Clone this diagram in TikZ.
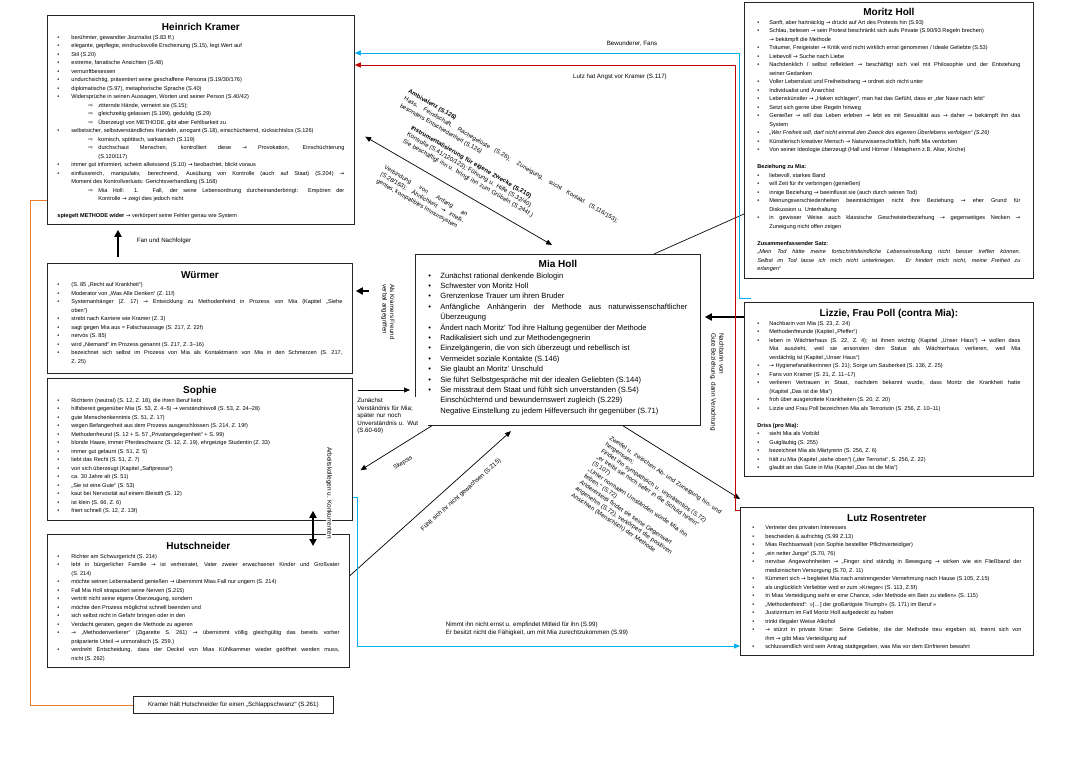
\documentclass[tikz,border=0pt]{standalone}
\usepackage{fontspec}
\setmainfont{Liberation Sans}
\newfontfamily\symfont{DejaVu Sans}
\usetikzlibrary{arrows.meta,positioning,calc}

\definecolor{fanblue}{RGB}{0,176,240}
\definecolor{angstred}{RGB}{192,0,0}
\definecolor{hutorange}{RGB}{237,125,49}

\newlength\hw \newlength\sw \newlength\sa
\setlength\hw{14pt}\setlength\sw{41pt}\setlength\sa{10pt}
\newcommand\ar{{\symfont →}}
\newcommand\Ar{{\symfont ⇨}}
\newcommand\itm{\par\hangindent=\hw\hangafter=0\noindent\llap{\makebox[\hw][l]{\textbullet}}}
\newcommand\sitm{\par\hangindent=\sw\hangafter=0\noindent\llap{\makebox[\sa][l]{\Ar}}}
\newcommand\nitm{\par\hangindent=\hw\hangafter=0\noindent}
\newcommand\ttl[1]{{\centering\fontsize{10}{12}\selectfont\bfseries #1\par}}
\newcommand\gap{\par\vspace{8.5pt}}
\newcommand\content[3]{\parbox[t][#2][t]{#1}{\tolerance=10000\hyphenpenalty=10000\emergencystretch=20pt #3}}

\begin{document}
\begin{tikzpicture}[x=1pt,y=-1pt,>={Triangle[length=6pt,width=5pt]},semithick]
\tikzstyle{char}=[draw=black!85,line width=0.8pt,anchor=north west,inner xsep=10pt,inner ysep=8pt,font=\fontsize{5.6}{8.5}\selectfont]
\tikzstyle{lbl}=[inner sep=0.5pt,font=\fontsize{6.2}{8}\selectfont]
\tikzstyle{link}=[->,line width=0.7pt]
\tikzstyle{bold arrow}=[line width=2pt,-{Triangle[length=7pt,width=7pt]}]
\tikzstyle{fan}=[draw=fanblue,line width=0.8pt]
\tikzstyle{angst}=[draw=angstred,line width=0.8pt]
\useasboundingbox (0,0) rectangle (1080,763);

% Kramer
\node[char] (K) at (47,15) {\content{287pt}{193pt}{%
\ttl{Heinrich Kramer}
\itm berühmter, gewandter Journalist (S.83 ff.)
\itm elegante, gepflegte, eindrucksvolle Erscheinung (S.15), legt Wert auf
\itm Stil (S.20)
\itm extreme, fanatische Ansichten (S.48)
\itm vernunftbesessen
\itm undurchsichtig, präsentiert seine geschaffene Persona (S.19/30/176)
\itm diplomatische (S.97), metaphorische Sprache (S.40)
\itm Widersprüche in seinen Aussagen, Worten und seiner Person (S.40/42)
\sitm zitternde Hände, verneint sie (S.15);
\sitm gleichzeitig gelassen (S.199), geduldig (S.29)
\sitm Überzeugt von METHODE, gibt aber Fehlbarkeit zu
\itm selbstsicher, selbstverständliches Handeln, arrogant (S.18), einschüchternd, rücksichtslos (S.126)
\sitm komisch, spöttisch, sarkastisch (S.119)
\sitm durchschaut Menschen, kontrolliert diese \ar{} Provokation, Einschüchterung\linebreak (S.120/117)
\itm immer gut informiert, scheint allwissend (S.10) \ar{} beobachtet, blickt voraus
\itm einflussreich, manipulativ, berechnend, Ausübung von Kontrolle (auch auf Staat) (S.204) \ar{}\linebreak Moment des Kontrollverlusts: Gerichtsverhandlung (S.168)
\sitm Mia Holl: 1. Fall, der seine Lebensordnung durcheinanderbringt: Empören der\linebreak Kontrolle \ar{} zeigt dies jedoch nicht
\gap
\noindent\textbf{spiegelt METHODE wider} \ar{} verkörpert seine Fehler genau wie System}};

% Wuermer
\node[char] (W) at (47,263) {\content{285pt}{94pt}{%
\ttl{Würmer}
\itm (S. 85 „Recht auf Krankheit“)
\itm Moderator von „Was Alle Denken“ (Z. 11f)
\itm Systemanhänger (Z. 17) \ar{} Entwicklung zu Methodenfeind in Prozess von Mia (Kapitel „Siehe\linebreak oben“)
\itm strebt nach Karriere wie Kramer (Z. 3)
\itm sagt gegen Mia aus = Falschaussage (S. 217, Z. 22f)
\itm nervös (S. 85)
\itm wird „Niemand“ im Prozess genannt (S. 217, Z. 3--16)
\itm bezeichnet sich selbst im Prozess von Mia als Kontaktmann von Mia in den Schmerzen (S. 217,\linebreak Z. 25)}};

% Sophie
\node[char] (S) at (47,378) {\content{285pt}{126pt}{%
\ttl{Sophie}
\itm Richterin (neutral) (S. 12, Z. 18), die ihren Beruf liebt
\itm hilfsbereit gegenüber Mia (S. 53, Z. 4--5) \ar{} verständnisvoll (S. 53, Z. 24--28)
\itm gute Menschenkenntnis (S. 51, Z. 17)
\itm wegen Befangenheit aus dem Prozess ausgeschlossen (S. 214, Z. 19f)
\itm Methodenfreund (S. 12 + S. 57 „Privatangelegenheit“ + S. 99)
\itm blonde Haare, immer Pferdeschwanz (S. 12, Z. 19), ehrgeizige Studentin (Z. 33)
\itm immer gut gelaunt (S. 51, Z. 5)
\itm liebt das Recht (S. 51, Z. 7)
\itm von sich überzeugt (Kapitel „Saftpresse“)
\itm ca. 30 Jahre alt (S. 51)
\itm „Sie ist eine Gute“ (S. 53)
\itm kaut bei Nervosität auf einem Bleistift (S. 12)
\itm ist klein (S. 66, Z. 6)
\itm friert schnell (S. 12, Z. 13f)}};

% Hutschneider
\node[char] (H) at (47,534) {\content{282pt}{117pt}{%
\ttl{Hutschneider}
\itm Richter am Schwurgericht (S. 214)
\itm lebt in bürgerlicher Familie \ar{} ist verheiratet, Vater zweier erwachsener Kinder und Großvater\linebreak (S. 214)
\itm möchte seinen Lebensabend genießen \ar{} übernimmt Mias Fall nur ungern (S. 214)
\itm Fall Mia Holl strapaziert seine Nerven (S.215)
\itm vertritt nicht seine eigene Überzeugung, sondern
\itm möchte den Prozess möglichst schnell beenden und
\itm sich selbst nicht in Gefahr bringen oder in den
\itm Verdacht geraten, gegen die Methode zu agieren
\itm \ar{} „Methodenverlierer“ (Zigarette S. 261) \ar{} übernimmt völlig gleichgültig das bereits vorher\linebreak präparierte Urteil \ar{} unmoralisch (S. 259.)
\itm verdreht Entscheidung, dass der Deckel von Mias Kühlkammer wieder geöffnet werden muss,\linebreak nicht (S. 262)}};

% Mia
\node[char,inner xsep=13pt,inner ysep=6pt,font=\fontsize{7.6}{10.4}\selectfont] (Mia) at (415,254) {\content{259pt}{159pt}{%
\setlength\hw{12pt}%
\ttl{Mia Holl}
\itm Zunächst rational denkende Biologin
\itm Schwester von Moritz Holl
\itm Grenzenlose Trauer um ihren Bruder
\itm Anfängliche Anhängerin der Methode aus naturwissenschaftlicher\linebreak Überzeugung
\itm Ändert nach Moritz' Tod ihre Haltung gegenüber der Methode
\itm Radikalisiert sich und zur Methodengegnerin
\itm Einzelgängerin, die von sich überzeugt und rebellisch ist
\itm Vermeidet soziale Kontakte (S.146)
\itm Sie glaubt an Moritz' Unschuld
\itm Sie führt Selbstgespräche mit der idealen Geliebten (S.144)
\itm Sie misstraut dem Staat und fühlt sich unverstanden (S.54)
\nitm Einschüchternd und bewundernswert zugleich (S.229)
\nitm Negative Einstellung zu jedem Hilfeversuch ihr gegenüber (S.71)}};

% Moritz
\node[char,inner xsep=13pt,inner ysep=6pt] (Mo) at (744,2) {\content{263pt}{264pt}{%
\setlength\hw{12pt}%
\ttl{Moritz Holl}
\itm Sanft, aber hartnäckig \ar{} drückt auf Art des Protests hin (S.93)
\itm Schlau, belesen \ar{} sein Protest beschränkt sich aufs Private (S.90/93 Regeln brechen)\newline\ar{} bekämpft die Methode
\itm Träumer, Freigeister \ar{} Kritik wird nicht wirklich ernst genommen / Ideale Geliebte (S.53)
\itm Liebevoll \ar{} Suche nach Liebe
\itm Nachdenklich / selbst reflektiert \ar{} beschäftigt sich viel mit Philosophie und der Entstehung\linebreak seiner Gedanken
\itm Voller Lebenslust und Freiheitsdrang \ar{} ordnet sich nicht unter
\itm Individualist und Anarchist
\itm Lebenskünstler \ar{} „Haken schlagen“, man hat das Gefühl, dass er „der Nase nach lebt“
\itm Setzt sich gerne über Regeln hinweg
\itm Genießer \ar{} will das Leben erleben \ar{} lebt es mit Sexualität aus \ar{} daher \ar{} bekämpft ihn das\linebreak System
\itm \textit{„Wer Freiheit will, darf nicht einmal den Zweck des eigenen Überlebens verfolgen“ (S.26)}
\itm Künstlerisch kreativer Mensch \ar{} Naturwissenschaftlich, hofft Mia verdorben
\itm Von seiner Ideologie überzeugt (Hall und Hörner / Metaphern z.B. Altar, Kirche)
\gap
\noindent\textbf{Beziehung zu Mia:}
\itm liebevoll, starkes Band
\itm will Zeit für ihr verbringen (genießen)
\itm innige Beziehung \ar{} beeinflusst sie (auch durch seinen Tod)
\itm Meinungsverschiedenheiten beeinträchtigen nicht ihre Beziehung \ar{} eher Grund für\linebreak Diskussion u. Unterhaltung
\itm in gewisser Weise auch klassische Geschwisterbeziehung \ar{} gegenseitiges Necken \ar{}\linebreak Zuneigung nicht offen zeigen
\gap
\noindent\textbf{Zusammenfassender Satz:}\par
\noindent\textit{„Mein Tod hätte meine fortschrittsfeindliche Lebenseinstellung nicht besser treffen können.\linebreak Selbst im Tod lasse ich mich nicht unterkriegen. Er hindert mich nicht, meine Freiheit zu\linebreak erlangen“}}};

% Lizzie
\node[char,inner xsep=13pt,inner ysep=7pt] (L) at (744,302) {\content{263pt}{160pt}{%
\setlength\hw{12pt}%
\ttl{Lizzie, Frau Poll (contra Mia):}
\itm Nachbarin von Mia (S. 23, Z. 24)
\itm Methodenfreunde (Kapitel „Pfeffer“)
\itm leben in Wächterhaus (S. 22, Z. 4); ist ihnen wichtig (Kapitel „Unser Haus“) \ar{} wollen dass\linebreak Mia auszieht, weil sie ansonsten den Status als Wächterhaus verlieren, weil Mia\linebreak verdächtig ist (Kapitel „Unser Haus“)
\itm \ar{} Hygienefanatikerinnen (S. 21); Sorge um Sauberkeit (S. 136, Z. 25)
\itm Fans von Kramer (S. 21, Z. 11--17)
\itm verlieren Vertrauen in Staat, nachdem bekannt wurde, dass Moritz die Krankheit hatte\linebreak (Kapitel „Das ist die Mia“)
\itm froh über ausgerottete Krankheiten (S. 20, Z. 20)
\itm Lizzie und Frau Poll bezeichnen Mia als Terroristin (S. 256, Z. 10--11)
\gap
\noindent\textbf{Driss (pro Mia):}
\itm sieht Mia als Vorbild
\itm Gutgläubig (S. 255)
\itm bezeichnet Mia als Märtyrerin (S. 256, Z. 6)
\itm hält zu Mia (Kapitel „siehe oben“) („der Terrorist“, S. 256, Z. 22)
\itm glaubt an das Gute in Mia (Kapitel „Das ist die Mia“)}};

% Lutz
\node[char,inner xsep=12pt,inner ysep=7pt] (R) at (740,507) {\content{269pt}{134pt}{%
\setlength\hw{13pt}%
\ttl{Lutz Rosentreter}
\itm Vertreter des privaten Interesses
\itm bescheiden \& aufrichtig (S.99 Z.13)
\itm Mias Rechtsanwalt (von Sophie bestellter Pflichtverteidiger)
\itm „ein netter Junge“ (S.70, 76)
\itm nervöse Angewohnheiten \ar{} „Finger sind ständig in Bewegung \ar{} wirken wie ein Fließband der\linebreak medizinischen Versorgung (S.70, Z. 11)
\itm Kümmert sich \ar{} begleitet Mia nach anstrengender Vernehmung nach Hause (S.105, Z.15)
\itm als unglücklich Verliebter wird er zum »Krieger« (S. 113, Z.5f)
\itm In Mias Verteidigung sieht er eine Chance, »der Methode ein Bein zu stellen« (S. 115)
\itm „Methodenfeind“: »[…] der großartigste Triumph« (S. 171) im Beruf »
\itm Justizirrtum im Fall Moritz Holl aufgedeckt zu haben
\itm trinkt illegaler Weise Alkohol
\itm \ar{} stürzt in private Krise: Seine Geliebte, die der Methode treu ergeben ist, trennt sich von\linebreak ihm \ar{} gibt Mias Verteidigung auf
\itm schlussendlich wird sein Antrag stattgegeben, was Mia vor dem Einfrieren bewahrt}};

% Kramer / Hutschneider
\node[draw=black!85,line width=0.8pt,anchor=west,font=\fontsize{6.2}{7}\selectfont,minimum width=200pt,minimum height=17pt] (KH) at (133,705) {Kramer hält Hutschneider für einen „Schlappschwanz“ (S.261)};

% labels between the boxes
\node[lbl,anchor=west] (fanlbl) at (136,241) {Fan und Nachfolger};
\node[lbl] (bew) at (632,44) {Bewunderer, Fans};
\node[lbl] (angstlbl) at (620,77) {Lutz hat Angst vor Kramer (S.117)};
\node[lbl,rotate=-30,text width=246pt,align=justify,font=\fontsize{6}{8.3}\selectfont] (amb) at (511,160) {\textbf{Ambivalenz (S.126)}\par Hass, Feindschaft, Rachegelüste (S.26); Zuneigung, sucht Kontakt (S.116/153);\linebreak besonders Entschiedenheit (S.126)};
\node[lbl,rotate=-30,text width=170pt,align=left,font=\fontsize{6.1}{7.8}\selectfont] (instr) at (481,177) {\textbf{Instrumentalisierung für eigene Zwecke (S.210)}\\ Kontrolle (S.41/120/123); Führung u. Hilfe (S.32/40)\\ Sie beschäftigt ihn u. bringt ihn zum Grübeln (S.244f.)};
\node[lbl,rotate=-30,text width=95pt,align=justify,font=\fontsize{6}{7.7}\selectfont] (verb) at (422,198) {Verbindung von Anfang an\linebreak (S.28/163); Ähnlichkeit \ar{} intelligentes, kompatibles Immunsystem};
\node[lbl,rotate=-90,align=left,font=\fontsize{6.2}{7.5}\selectfont] (angr) at (388,312) {Als Kramers Freund\\ verbal angegriffen};
\node[lbl,anchor=north west,align=left,fill=white,inner sep=1pt,text width=70pt,font=\fontsize{6.2}{7.5}\selectfont] (zun) at (356,397) {Zunächst\\ Verständnis für Mia;\\ später nur noch\\ Unverständnis u. Wut\\ (S.60-69)};
\node[lbl,rotate=32,font=\fontsize{6}{7}\selectfont] (skep) at (403,463) {Skepsis};
\node[lbl,rotate=42] (gew) at (461,495) {Fühlt sich ihr nicht gewachsen (S.215)};
\node[lbl,rotate=-90,fill=white,font=\fontsize{6.4}{7}\selectfont] (koll) at (329,493) {Arbeitskollegen u. Konkurrenten};
\node[lbl,rotate=-90,align=left,font=\fontsize{6.4}{8}\selectfont] (nach) at (717,382) {Nachbarin von\\ Gute Beziehung, dann Verachtung};
\node[lbl,rotate=-34,text width=145pt,align=left,font=\fontsize{6.1}{7.6}\selectfont] (zweifel) at (651,507) {Zweifel u. zwischen Ab- und Zuneigung hin- und\\ hergerissen;\\ Findet ihn sympathisch u. unprätentiös (S.72)\\ „er treibt sie noch tiefer in die Schuld hinein“\\ (S.107)\\ „Unter normalen Umständen würde Mia ihn\\ lieben.“ (S.72)\\ Andererseits findet sie seine Gegenwart\\ angenehm (S.72), verkörpert die positiven\\ Ansichten (Menschlich) der Methode};
\node[lbl,anchor=north west,align=left] (nimmt) at (445,621) {Nimmt ihn nicht ernst u. empfindet Mitleid für ihn (S.99)\\ Er besitzt nicht die Fähigkeit, um mit Mia zurechtzukommen (S.99)};

% connectors
\draw[bold arrow,shorten <=6pt,shorten >=5pt] (W.north -| 118,0) -- (K.south -| 118,0);
\draw[bold arrow,{Triangle[length=7pt,width=7pt]}-{Triangle[length=7pt,width=7pt]},shorten <=-10pt,shorten >=-12pt] (S.south -| 313,0) -- (H.north -| 313,0);
\draw[bold arrow,shorten <=46pt,shorten >=3pt] (Mia.west |- 0,291) -- (W.east |- 0,291);
\draw[bold arrow,shorten >=4pt] (L.west |- 0,317) -- (Mia.east |- 0,317);
\draw[link,<->,shorten <=12pt,shorten >=18pt] (K.east |- 0,130.6) -- (Mia.north -| 567.6,0);
\draw[link,shorten <=5pt,shorten >=5pt] (S.east |- 0,390) -- (Mia.west |- 0,390);
\draw[link,shorten >=9pt] (Mia.south -| 431.8,0) -- (S.east |- 0,475);
\draw[link,shorten >=8pt] (H.east |- 0,575.7) -- (Mia.south -| 516.9,0);
\draw[link] (Mia.south -| 623,0) -- (R.west |- 0,499);
\draw[line width=0.7pt] (Mia.north -| 654,0) -- (Mo.west |- 0,214);
\draw[fan,->] ($(L.north west)+(7,-4)$) -| (739,53) -- (K.east |- 0,53);
\draw[angst,->] (R.west |- 0,510) -| (735,65) -- (K.east |- 0,65);
\draw[fan,->] (S.east |- 0,497) -| (357,646) -- (R.west |- 0,646);
\draw[draw=hutorange,line width=0.8pt] (K.west |- 0,200) -| (30,705) -- (KH.west);
\end{tikzpicture}
\end{document}
